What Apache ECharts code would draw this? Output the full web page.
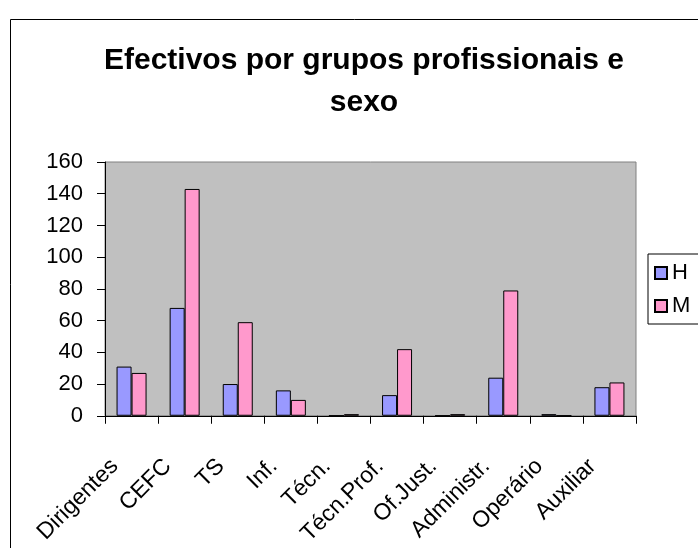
<!DOCTYPE html>
<html><head><meta charset="utf-8">
<script src="https://cdn.jsdelivr.net/npm/echarts@6/dist/echarts.min.js"></script>
<style>html,body{margin:0;padding:0;background:#fff}#c{width:698px;height:548px}</style>
</head><body><div id="c"></div>
<script>
const categories = ['Dirigentes','CEFC','TS','Inf.','Técn.','Técn.Prof.','Of.Just.','Administr.','Operário','Auxiliar'];
const seriesH = [31, 68, 20, 16, 0, 13, 0, 24, 1, 18];
const seriesM = [27, 143, 59, 10, 1, 42, 1, 79, 0, 21];
const yTicks = [0, 20, 40, 60, 80, 100, 120, 140, 160];
const titleText = 'Efectivos por grupos profissionais e\nsexo';
const FONT = '"Liberation Sans", Arial, sans-serif';

const chart = echarts.init(document.getElementById('c'), null, {renderer: 'canvas'});
chart.setOption({
  animation: false,
  backgroundColor: '#fff',
  textStyle: {fontFamily: FONT},
  title: {
    text: titleText,
    left: 359, top: 35, textAlign: 'center',
    textStyle: {fontFamily: FONT, fontSize: 30, fontWeight: 'bold', color: '#000', lineHeight: 42}
  },
  graphic: [
    {type: 'rect', shape: {x: 10.5, y: 19.5, width: 720, height: 560}, style: {fill: 'none', stroke: '#000', lineWidth: 1}, silent: true, z: -10}
  ],
  legend: {
    orient: 'vertical',
    left: 648, top: 254,
    itemWidth: 12, itemHeight: 12, itemGap: 11,
    padding: [8, 20, 7, 6],
    backgroundColor: '#fff', borderColor: '#000', borderWidth: 1,
    icon: 'rect',
    textStyle: {fontFamily: FONT, fontSize: 22, color: '#000', padding: [0,0,0,0]},
    data: ['H', 'M']
  },
  grid: {left: 105, top: 162, width: 531, height: 254, show: true, backgroundColor: '#C0C0C0', borderColor: '#808080', borderWidth: 1},
  xAxis: {
    type: 'category', data: categories,
    axisLine: {lineStyle: {color: '#000', width: 1}},
    axisTick: {show: true, length: 8, lineStyle: {color: '#000'}},
    axisLabel: {rotate: 45, interval: 0, margin: 30, padding: [0, 24, 0, 0], fontFamily: FONT, fontSize: 23, color: '#000'}
  },
  yAxis: {
    type: 'value', min: yTicks[0], max: yTicks[yTicks.length-1], interval: 20,
    axisLine: {show: true, lineStyle: {color: '#000', width: 1}},
    axisTick: {show: true, length: 8, lineStyle: {color: '#000'}},
    splitLine: {show: false},
    axisLabel: {margin: 22, fontFamily: FONT, fontSize: 22, color: '#000'}
  },
  series: [
    {name: 'H', type: 'bar', data: seriesH, barWidth: 15, barGap: '0%',
     itemStyle: {color: '#9999FF', borderColor: '#000', borderWidth: 1}},
    {name: 'M', type: 'bar', data: seriesM, barWidth: 15, barGap: '0%',
     itemStyle: {color: '#FF99CC', borderColor: '#000', borderWidth: 1}}
  ]
});
</script></body></html>
